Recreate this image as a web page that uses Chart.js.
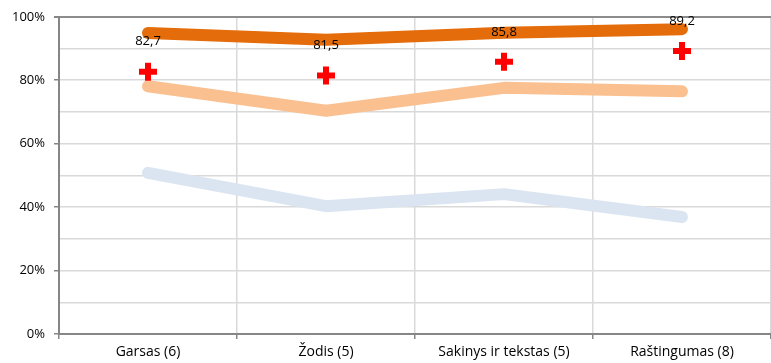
<!DOCTYPE html>
<html>
<head>
<meta charset="utf-8">
<script src="https://cdn.jsdelivr.net/npm/chart.js@4/dist/chart.umd.min.js"></script>
<style>
  html, body { margin: 0; padding: 0; background: #fff; }
  #wrap { width: 771px; height: 363px; }
</style>
</head>
<body>
<div id="wrap"><canvas id="chart"></canvas></div>
<script>
const categories = ['Garsas (6)', 'Žodis (5)', 'Sakinys ir tekstas (5)', 'Raštingumas (8)'];
const topLine = [94.9, 92.8, 95.0, 96.1];
const midLine = [78.1, 70.4, 77.6, 76.5];
const lowLine = [50.8, 40.3, 44.1, 36.9];
const crossValues = [82.7, 81.5, 85.8, 89.2];

const fontFamily = '"Open Sans", Lato, sans-serif';

// uzrasai virs kryzeliu
const crossLabels = {
    id: 'crossLabels',
    afterDatasetsDraw(chart) {
        const meta = chart.getDatasetMeta(3);
        const ctx = chart.ctx;
        ctx.save();
        ctx.font = '13px ' + fontFamily;
        ctx.fillStyle = '#000';
        ctx.textAlign = 'center';
        ctx.textBaseline = 'middle';
        meta.data.forEach((pt, i) => {
            ctx.fillText(crossValues[i].toFixed(1).replace('.', ','), pt.x, pt.y - 30);
        });
        ctx.restore();
    }
};

const lineOpts = {
    fill: false,
    tension: 0,
    borderWidth: 12,
    borderCapStyle: 'round',
    borderJoinStyle: 'round',
    pointRadius: 0,
    pointHoverRadius: 0
};

const ctx = document.getElementById('chart').getContext('2d');
const chart = new Chart(ctx, {
    type: 'line',
    data: {
        labels: categories,
        datasets: [
            Object.assign({ label: 'low', data: lowLine, borderColor: '#DBE5F1', order: 4 }, lineOpts),
            Object.assign({ label: 'mid', data: midLine, borderColor: '#FAC090', order: 3 }, lineOpts),
            Object.assign({ label: 'top', data: topLine, borderColor: '#E46C0A', order: 2 }, lineOpts),
            {
                label: 'cross',
                data: crossValues,
                showLine: false,
                pointStyle: 'cross',
                pointRadius: 9,
                pointBorderWidth: 6,
                pointBorderColor: '#FF0000',
                pointBackgroundColor: '#FF0000',
                pointHoverRadius: 9,
                order: 1
            }
        ]
    },
    options: {
        responsive: true,
        maintainAspectRatio: false,
        animation: false,
        events: [],
        layout: { autoPadding: false, padding: { top: 16, right: 0, left: 0, bottom: 0 } },
        plugins: {
            legend: { display: false },
            tooltip: { enabled: false }
        },
        scales: {
            x: {
                offset: true,
                grid: {
                    offset: true,
                    color: '#D9D9D9',
                    lineWidth: 1.5,
                    tickColor: '#868686',
                    tickLength: 5
                },
                border: { color: '#868686', width: 2 },
                ticks: {
                    color: '#000',
                    font: { family: fontFamily, size: 14 },
                    padding: 5,
                    maxRotation: 0
                },
                afterFit(scale) { scale.height = 29; }
            },
            y: {
                min: 0,
                max: 100,
                grid: {
                    color: c => c.tick && c.tick.value === 100 ? '#8C8C8C' : '#D9D9D9',
                    lineWidth: c => c.tick && c.tick.value === 100 ? 2 : 1.5,
                    tickColor: c => c.tick && c.tick.value % 20 === 0 ? '#868686' : 'rgba(0,0,0,0)',
                    tickLength: 5
                },
                border: { color: '#868686', width: 2 },
                ticks: {
                    stepSize: 10,
                    color: '#000',
                    font: { family: fontFamily, size: 13 },
                    padding: 9,
                    callback: v => v % 20 === 0 ? v + '%' : ''
                },
                afterFit(scale) { scale.width = 59; }
            }
        }
    },
    plugins: [crossLabels]
});
</script>
</body>
</html>
